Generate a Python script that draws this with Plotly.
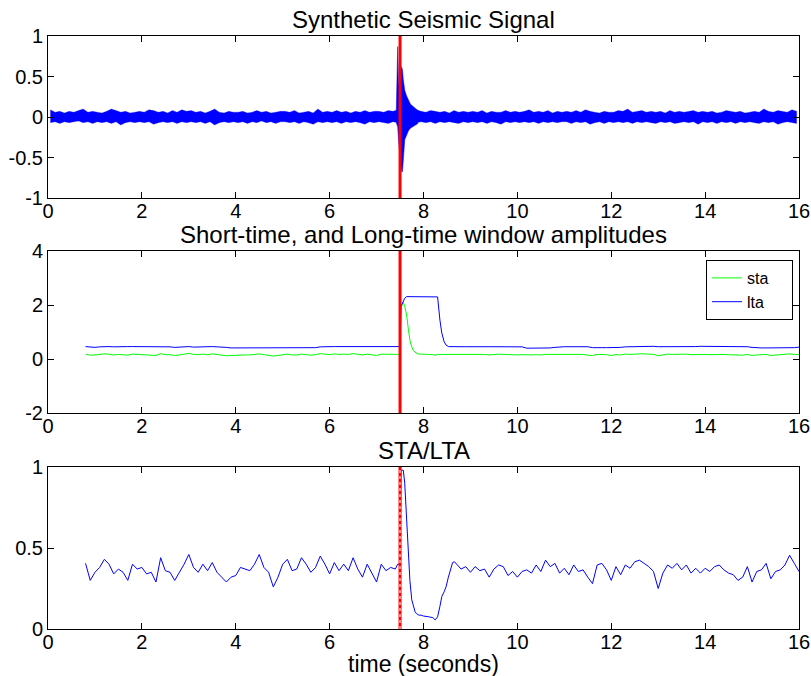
import numpy as np
import plotly.graph_objects as go
from plotly.subplots import make_subplots

# ---------------- data ----------------
pick_time = 7.5  # detected onset (s)

# Raw trace, summarised per 0.1 s bin as (max, min) of the samples
noise_t = np.round(np.arange(0.05, 16.0, 0.1), 2)
noise_max = [
    0.09, 0.06, 0.07, 0.05, 0.07, 0.06, 0.08, 0.10, 0.06, 0.07,
    0.06, 0.05, 0.07, 0.10, 0.08, 0.06, 0.07, 0.05, 0.06, 0.07,
    0.06, 0.09, 0.08, 0.06, 0.07, 0.05, 0.08, 0.06, 0.09, 0.07,
    0.08, 0.06, 0.07, 0.05, 0.07, 0.10, 0.06, 0.05, 0.07, 0.06,
    0.06, 0.07, 0.05, 0.06, 0.08, 0.06, 0.07, 0.05, 0.06, 0.07,
    0.07, 0.06, 0.08, 0.05, 0.06, 0.07, 0.05, 0.10, 0.06, 0.07,
    0.06, 0.08, 0.06, 0.07, 0.05, 0.07, 0.06, 0.08, 0.06, 0.07,
    0.07, 0.06, 0.08, 0.07, 0.09, 0.07, 0.08, 0.06, 0.09, 0.07,
    0.06, 0.08, 0.07, 0.06, 0.07, 0.05, 0.08, 0.06, 0.07, 0.06,
    0.07, 0.06, 0.08, 0.05, 0.07, 0.06, 0.06, 0.08, 0.06, 0.07,
    0.06, 0.07, 0.09, 0.06, 0.07, 0.06, 0.08, 0.05, 0.07, 0.06,
    0.07, 0.06, 0.08, 0.06, 0.09, 0.07, 0.06, 0.05, 0.07, 0.06,
    0.06, 0.08, 0.07, 0.10, 0.06, 0.07, 0.08, 0.06, 0.07, 0.06,
    0.07, 0.05, 0.08, 0.06, 0.07, 0.06, 0.07, 0.08, 0.06, 0.07,
    0.06, 0.07, 0.05, 0.06, 0.08, 0.07, 0.06, 0.07, 0.05, 0.06,
    0.07, 0.06, 0.10, 0.07, 0.06, 0.08, 0.07, 0.06, 0.09, 0.07,
]
noise_min = [
    -0.07, -0.06, -0.08, -0.06, -0.07, -0.06, -0.05, -0.07, -0.06, -0.08,
    -0.06, -0.07, -0.06, -0.08, -0.06, -0.10, -0.07, -0.06, -0.07, -0.06,
    -0.07, -0.06, -0.09, -0.07, -0.06, -0.07, -0.06, -0.08, -0.06, -0.07,
    -0.06, -0.07, -0.06, -0.08, -0.06, -0.10, -0.07, -0.06, -0.07, -0.06,
    -0.07, -0.06, -0.08, -0.06, -0.07, -0.05, -0.07, -0.06, -0.08, -0.06,
    -0.06, -0.07, -0.06, -0.08, -0.06, -0.07, -0.09, -0.06, -0.07, -0.06,
    -0.07, -0.06, -0.08, -0.06, -0.07, -0.06, -0.07, -0.09, -0.06, -0.07,
    -0.06, -0.07, -0.08, -0.06, -0.07, -0.07, -0.08, -0.06, -0.07, -0.06,
    -0.07, -0.06, -0.08, -0.06, -0.07, -0.06, -0.07, -0.08, -0.06, -0.07,
    -0.06, -0.07, -0.06, -0.08, -0.06, -0.07, -0.09, -0.06, -0.07, -0.06,
    -0.07, -0.06, -0.07, -0.06, -0.08, -0.06, -0.07, -0.06, -0.07, -0.06,
    -0.06, -0.08, -0.06, -0.07, -0.06, -0.09, -0.07, -0.06, -0.08, -0.06,
    -0.07, -0.06, -0.07, -0.06, -0.08, -0.06, -0.07, -0.06, -0.07, -0.08,
    -0.06, -0.07, -0.06, -0.08, -0.07, -0.06, -0.07, -0.06, -0.09, -0.06,
    -0.07, -0.06, -0.08, -0.06, -0.07, -0.06, -0.08, -0.06, -0.07, -0.06,
    -0.07, -0.08, -0.06, -0.07, -0.06, -0.09, -0.07, -0.06, -0.07, -0.08,
]

# Event arrival, finer bins
burst_t = [7.42, 7.45, 7.47, 7.50, 7.53, 7.55, 7.57, 7.60, 7.64, 7.68, 7.72, 7.76, 7.82, 7.88]
burst_max = [0.07, 0.87, 0.40, 0.45, 0.62, 0.59, 0.46, 0.33, 0.26, 0.21, 0.16, 0.14, 0.11, 0.08]
burst_min = [-0.07, -0.12, -0.30, -0.50, -0.66, -0.68, -0.53, -0.28, -0.22, -0.17, -0.14, -0.12, -0.10, -0.08]

# Window averages and their ratio
t_pre = np.round(np.arange(0.8, 7.45, 0.1), 2)
t_evt = [7.45, 7.50, 7.52, 7.55, 7.57, 7.60, 7.64, 7.68, 7.71, 7.75, 7.78, 7.82, 7.85, 7.90,
         7.95, 8.00, 8.10, 8.20, 8.25, 8.30, 8.35, 8.39, 8.44, 8.48, 8.53, 8.58, 8.62, 8.66]
t_post = np.round(np.arange(8.7, 16.05, 0.1), 2)

sta_pre = [
    0.18, 0.14,
    0.15, 0.17, 0.19, 0.18, 0.15, 0.17, 0.16, 0.14, 0.18, 0.17,
    0.17, 0.15, 0.16, 0.13, 0.20, 0.16, 0.16, 0.13, 0.15, 0.18,
    0.21, 0.17, 0.16, 0.18, 0.16, 0.19, 0.16, 0.14, 0.12, 0.13,
    0.14, 0.16, 0.15, 0.15, 0.16, 0.19, 0.16, 0.14, 0.11, 0.13,
    0.16, 0.18, 0.15, 0.15, 0.18, 0.16, 0.14, 0.16, 0.20, 0.18,
    0.16, 0.19, 0.17, 0.18, 0.17, 0.20, 0.17, 0.15, 0.18, 0.16,
    0.13, 0.18, 0.17, 0.17, 0.17,
]
sta_evt = [0.17, 0.17, 1.92, 2.02, 2.10, 1.95, 1.63, 1.07, 0.70, 0.45, 0.33, 0.25, 0.22, 0.18,
           0.18, 0.17, 0.17, 0.16, 0.14, 0.17, 0.17, 0.17, 0.17, 0.16, 0.17, 0.17, 0.17, 0.17]
sta_post = [
    0.17, 0.17, 0.18,
    0.17, 0.17, 0.17, 0.17, 0.15, 0.17, 0.18, 0.17, 0.16, 0.16,
    0.15, 0.16, 0.15, 0.15, 0.16, 0.15, 0.17, 0.17, 0.17, 0.16,
    0.17, 0.16, 0.18, 0.16, 0.17, 0.14, 0.13, 0.17, 0.17, 0.16,
    0.13, 0.16, 0.15, 0.18, 0.17, 0.19, 0.19, 0.19, 0.18, 0.17,
    0.12, 0.16, 0.18, 0.17, 0.18, 0.17, 0.18, 0.16, 0.17, 0.16,
    0.17, 0.16, 0.17, 0.18, 0.17, 0.16, 0.15, 0.14, 0.14, 0.17,
    0.13, 0.15, 0.15, 0.17, 0.13, 0.15, 0.15, 0.17, 0.19, 0.17,
    0.16,
]

lta_pre = [
    0.46, 0.44,
    0.43, 0.45, 0.46, 0.46, 0.45, 0.46, 0.47, 0.46, 0.46, 0.46,
    0.46, 0.44, 0.45, 0.46, 0.46, 0.46, 0.45, 0.43, 0.44, 0.45,
    0.46, 0.44, 0.45, 0.46, 0.46, 0.46, 0.45, 0.45, 0.43, 0.41,
    0.41, 0.41, 0.41, 0.41, 0.41, 0.41, 0.41, 0.41, 0.41, 0.41,
    0.41, 0.41, 0.41, 0.41, 0.41, 0.41, 0.41, 0.42, 0.45, 0.46,
    0.46, 0.46, 0.46, 0.46, 0.46, 0.47, 0.46, 0.46, 0.46, 0.46,
    0.46, 0.46, 0.46, 0.46, 0.46,
]
lta_evt = [0.46, 0.46, 1.95, 2.05, 2.12, 2.25, 2.31, 2.31, 2.31, 2.31, 2.31, 2.31, 2.31, 2.31,
           2.31, 2.31, 2.31, 2.31, 2.31, 2.30, 1.44, 0.96, 0.64, 0.52, 0.46, 0.455, 0.455, 0.455]
lta_post = [
    0.455, 0.455, 0.455,
    0.46, 0.455, 0.455, 0.455, 0.455, 0.455, 0.455, 0.455, 0.455, 0.455,
    0.455, 0.45, 0.40, 0.40, 0.40, 0.40, 0.40, 0.41, 0.43, 0.455,
    0.455, 0.455, 0.455, 0.455, 0.455, 0.455, 0.42, 0.43, 0.42, 0.42,
    0.42, 0.42, 0.43, 0.45, 0.455, 0.455, 0.455, 0.455, 0.47, 0.47,
    0.455, 0.455, 0.455, 0.44, 0.455, 0.455, 0.455, 0.455, 0.46, 0.47,
    0.47, 0.455, 0.455, 0.455, 0.455, 0.455, 0.455, 0.455, 0.455, 0.455,
    0.43, 0.41, 0.41, 0.41, 0.41, 0.41, 0.41, 0.42, 0.43, 0.42,
    0.44,
]

ratio_pre = [
    0.405, 0.30,
    0.35, 0.38, 0.43, 0.40, 0.34, 0.37, 0.35, 0.30, 0.40, 0.37,
    0.38, 0.34, 0.35, 0.29, 0.44, 0.36, 0.35, 0.30, 0.35, 0.40,
    0.46, 0.38, 0.35, 0.40, 0.36, 0.41, 0.35, 0.32, 0.29, 0.32,
    0.33, 0.38, 0.37, 0.36, 0.40, 0.46, 0.38, 0.35, 0.26, 0.32,
    0.40, 0.43, 0.36, 0.37, 0.44, 0.40, 0.35, 0.38, 0.45, 0.40,
    0.34, 0.41, 0.36, 0.40, 0.36, 0.44, 0.37, 0.32, 0.40, 0.34,
    0.29, 0.40, 0.36, 0.38, 0.37,
]
ratio_evt = [0.40, 0.40, 0.98, 0.98, 0.98, 0.90, 0.69, 0.49, 0.30, 0.18, 0.14, 0.107, 0.095, 0.086,
             0.085, 0.080, 0.076, 0.070, 0.056, 0.075, 0.14, 0.20, 0.23, 0.26, 0.32, 0.38, 0.41, 0.415]
ratio_post = [
    0.40, 0.37, 0.385,
    0.35, 0.385, 0.36, 0.37, 0.32, 0.37, 0.395, 0.385, 0.33, 0.355,
    0.32, 0.355, 0.365, 0.345, 0.395, 0.355, 0.425, 0.385, 0.405, 0.345,
    0.375, 0.335, 0.395, 0.355, 0.365, 0.32, 0.28, 0.395, 0.405, 0.365,
    0.30, 0.385, 0.335, 0.395, 0.375, 0.415, 0.425, 0.405, 0.385, 0.355,
    0.25, 0.345, 0.395, 0.375, 0.405, 0.365, 0.395, 0.345, 0.375, 0.345,
    0.375, 0.355, 0.385, 0.395, 0.365, 0.345, 0.335, 0.30, 0.32, 0.385,
    0.29, 0.355, 0.365, 0.405, 0.31, 0.355, 0.365, 0.395, 0.455, 0.405,
    0.355,
]

x_ticks = [0, 2, 4, 6, 8, 10, 12, 14, 16]
y1_ticks, y1_text = [-1, -0.5, 0, 0.5, 1], ["-1", "-0.5", "0", "0.5", "1"]
y2_ticks, y2_text = [-2, 0, 2, 4], ["-2", "0", "2", "4"]
y3_ticks, y3_text = [0, 0.5, 1], ["0", "0.5", "1"]

titles = ["Synthetic Seismic Signal",
          "Short-time, and Long-time window amplitudes",
          "STA/LTA"]

# ---------------- figure ----------------
BLUE, GREEN, RED = "#0000FF", "#00FF00", "#FF0000"
FONT = "Liberation Sans, Arial, sans-serif"
PAD = "\u00a0" * 4  # keeps the legend box as wide as the classic one

t_win = np.concatenate([t_pre, t_evt, t_post])
sta = np.concatenate([sta_pre, sta_evt, sta_post])
lta = np.concatenate([lta_pre, lta_evt, lta_post])
ratio = np.concatenate([ratio_pre, ratio_evt, ratio_post])

fig = make_subplots(rows=3, cols=1)

# seismogram drawn as its min/max envelope band
fig.add_trace(go.Scatter(
    x=np.concatenate([noise_t, noise_t[::-1]]),
    y=np.concatenate([noise_max, noise_min[::-1]]),
    fill="toself", fillcolor=BLUE, mode="lines",
    line=dict(color="rgba(0,0,255,0.5)", width=0.5), showlegend=False, hoverinfo="skip"),
    row=1, col=1)
fig.add_trace(go.Scatter(
    x=burst_t + burst_t[::-1],
    y=burst_max + burst_min[::-1],
    fill="toself", fillcolor=BLUE, mode="lines",
    line=dict(color=BLUE, width=0.5), showlegend=False, hoverinfo="skip"), row=1, col=1)

fig.add_trace(go.Scatter(x=t_win, y=sta, mode="lines", name="sta" + PAD,
                         line=dict(color=GREEN, width=1)), row=2, col=1)
fig.add_trace(go.Scatter(x=t_win, y=lta, mode="lines", name="lta" + PAD,
                         line=dict(color=BLUE, width=1)), row=2, col=1)

fig.add_trace(go.Scatter(x=t_win, y=ratio, mode="lines", showlegend=False,
                         line=dict(color=BLUE, width=1)), row=3, col=1)

# pick markers
for ax in ["", "2", "3"]:
    fig.add_shape(type="line", xref="x" + ax, yref="y" + ax + " domain",
                  x0=pick_time, x1=pick_time, y0=0, y1=1,
                  line=dict(color=RED, width=3), layer="above")
fig.add_shape(type="line", xref="x3", yref="y3 domain",
              x0=pick_time, x1=pick_time, y0=0, y1=1,
              line=dict(color="white", width=1, dash="dot"), layer="above")

# panel geometry (pixels inside the 593 px plot height)
H = 593.0
domains = [((629 - 198) / H, 1.0),
           ((629 - 413) / H, (629 - 251) / H),
           (0.0, (629 - 467) / H)]
yranges = [[-1, 1], [-2, 4], [0, 1]]
yticks = [(y1_ticks, y1_text), (y2_ticks, y2_text), (y3_ticks, y3_text)]

axis_common = dict(showline=True, linecolor="black", linewidth=1, mirror="ticks",
                   ticks="inside", ticklen=6, tickcolor="black", tickwidth=1,
                   showgrid=False, zeroline=False, automargin=False,
                   tickfont=dict(family=FONT, size=20, color="black"))

for i in range(3):
    sfx = "" if i == 0 else str(i + 1)
    fig.layout["xaxis" + sfx].update(range=[0, 16], tickvals=x_ticks,
                                     ticktext=[str(v) for v in x_ticks],
                                     ticklabelstandoff=-5, **axis_common)
    fig.layout["yaxis" + sfx].update(range=yranges[i], domain=list(domains[i]),
                                     tickvals=yticks[i][0], ticktext=yticks[i][1],
                                     **axis_common)
    fig.add_annotation(text=titles[i], xref="paper", yref="paper", x=0.5, y=domains[i][1],
                       xanchor="center", yanchor="bottom", yshift=1, showarrow=False,
                       font=dict(family=FONT, size=24, color="black"))

fig.add_annotation(text="time (seconds)", xref="paper", yref="paper", x=0.5, y=0,
                   xanchor="center", yanchor="top", yshift=-20, showarrow=False,
                   font=dict(family=FONT, size=23, color="black"))

fig.update_layout(
    width=811, height=676,
    margin=dict(l=48, r=12, t=36, b=47, autoexpand=False),
    paper_bgcolor="white", plot_bgcolor="white",
    legend=dict(x=(706 - 48) / 751, y=(629 - 260) / H, xanchor="left", yanchor="top",
                bgcolor="white", bordercolor="black", borderwidth=1,
                font=dict(family=FONT, size=16, color="black"),
                itemwidth=30, tracegroupgap=0),
)

fig.write_html("out.html")
